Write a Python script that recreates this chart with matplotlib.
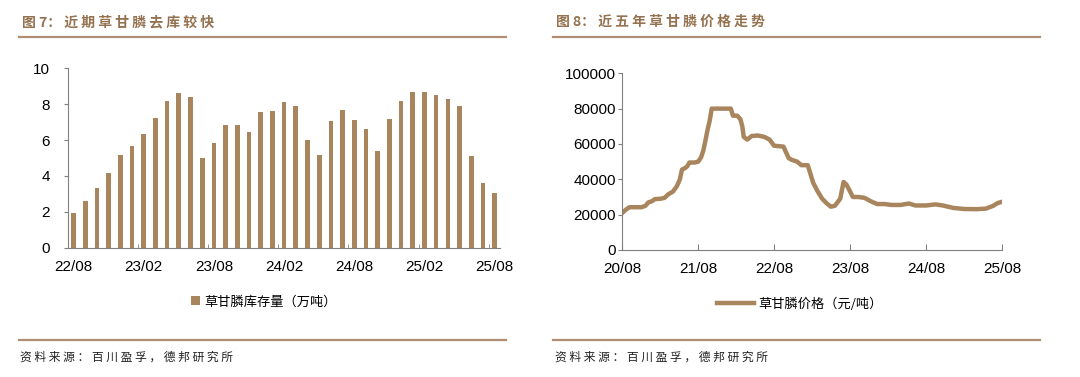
import matplotlib
matplotlib.use('Agg')
import matplotlib.pyplot as plt
from matplotlib.lines import Line2D
import pandas as pd

plt.rcParams['font.family'] = ['Liberation Sans', 'Noto Sans CJK SC', 'DejaVu Sans']

# ---- data: glyphosate inventory (10k t), monthly 22/08 .. 25/08
stock_months = pd.date_range('2022-08-01', '2025-08-01', freq='MS').strftime('%y/%m').tolist()
stock_values = [1.93, 2.58, 3.33, 4.18, 5.17, 5.69, 6.34, 7.21, 8.18, 8.61, 8.38, 5.00,
                5.85, 6.84, 6.82, 6.47, 7.57, 7.64, 8.10, 7.90, 5.98, 5.15, 7.04, 7.70,
                7.12, 6.64, 5.37, 7.16, 8.18, 8.66, 8.66, 8.51, 8.27, 7.90, 5.11, 3.61, 3.03]

# ---- data: glyphosate price (yuan/t)
price_dates = ['2020-08-01', '2020-08-20', '2020-09-05', '2020-10-01', '2020-11-01', '2020-11-20',
               '2020-12-05', '2020-12-20', '2021-01-05', '2021-02-01', '2021-02-20', '2021-03-10',
               '2021-04-01', '2021-04-20', '2021-05-05', '2021-05-15', '2021-06-01', '2021-06-10',
               '2021-06-20', '2021-07-15', '2021-08-01', '2021-08-15', '2021-08-25', '2021-09-05',
               '2021-09-15', '2021-09-25', '2021-10-05', '2021-11-01', '2021-12-01', '2022-01-05',
               '2022-01-15', '2022-02-05', '2022-02-20', '2022-03-01', '2022-03-08', '2022-03-25',
               '2022-04-15', '2022-05-15', '2022-06-15', '2022-07-10', '2022-08-01', '2022-09-15',
               '2022-10-10', '2022-10-25', '2022-11-20', '2022-12-10', '2023-01-10', '2023-02-05',
               '2023-02-25', '2023-03-20', '2023-04-10', '2023-05-01', '2023-05-20', '2023-06-15',
               '2023-07-01', '2023-07-15', '2023-08-15', '2023-09-10', '2023-10-10', '2023-11-10',
               '2023-12-10', '2024-01-15', '2024-02-15', '2024-04-01', '2024-05-10', '2024-06-10',
               '2024-08-01', '2024-09-15', '2024-10-20', '2024-12-10', '2025-02-01', '2025-04-01',
               '2025-05-15', '2025-06-20', '2025-07-10', '2025-08-01']
price_values = [21000, 23000, 24200, 24200, 24200, 25000,
                27000, 27500, 28800, 29000, 29500, 31500,
                33000, 36000, 40000, 45500, 46500, 47500,
                49500, 49500, 50000, 52500, 56000, 62000,
                68000, 73000, 80000, 80000, 80000, 80000,
                76000, 76000, 74000, 70000, 64000, 62500,
                64500, 64800, 64000, 62500, 59000, 58500,
                52000, 51000, 50000, 48000, 48000, 38000,
                33500, 29000, 26500, 24500, 25000, 29000,
                38500, 37000, 30000, 30000, 29500, 27500,
                26000, 26000, 25500, 25500, 26300, 25200,
                25200, 25800, 25200, 23800, 23200, 23100,
                23400, 25000, 26500, 27300]
price_ticks = ['2020-08-01', '2021-08-01', '2022-08-01', '2023-08-01', '2024-08-01', '2025-08-01']

bar_color = '#A8855C'
title_color = '#94714F'
rule_color = '#B08E72'
axis_color = '#808080'
cjk = ['Noto Sans CJK SC', 'DejaVu Sans']


def spaced(s):
    # the report fonts are set with wide letter spacing
    return ' '.join(s)


fig = plt.figure(figsize=(10.8, 3.77), dpi=100)

# ---------------- left chart ----------------
ax1 = fig.add_axes([0.0627, 0.343, 0.4007, 0.4758])
x = list(range(len(stock_values)))
ax1.bar(x, stock_values, width=0.4, color=bar_color, label='草甘膦库存量（万吨）')
ax1.set_xlim(-0.5, len(stock_values) - 0.5)
ax1.set_ylim(0, 10)
ax1.set_yticks(range(0, 11, 2))
ax1.set_xticks(x[::6])
ax1.set_xticklabels(stock_months[::6])
ax1.set_xticks([i + 0.5 for i in x[5::6]], minor=True)
ax1.tick_params(axis='x', which='major', length=0, labelsize=11, pad=9)
ax1.tick_params(axis='x', which='minor', direction='in', length=3, color=axis_color)
ax1.tick_params(axis='y', direction='out', length=3, color=axis_color, labelsize=11, pad=10)
for s in ['top', 'right']:
    ax1.spines[s].set_visible(False)
for s in ['left', 'bottom']:
    ax1.spines[s].set_color(axis_color)
ax1.legend(loc='upper center', bbox_to_anchor=(0.4536, -0.2), frameon=False,
           prop={'family': cjk, 'size': 9.5}, handlelength=0.7, handleheight=0.7,
           handletextpad=0.3)

# ---------------- right chart ----------------
ax2 = fig.add_axes([0.5762, 0.3369, 0.3516, 0.4687])
pdates = pd.to_datetime(price_dates)
ax2.plot(pdates, price_values, color=bar_color, lw=3.2, label='草甘膦价格（元/吨）')
ax2.set_xlim(pd.Timestamp(price_ticks[0]), pd.Timestamp(price_ticks[-1]))
ax2.set_ylim(0, 100000)
ax2.set_yticks(range(0, 100001, 20000))
ax2.set_xticks(pd.to_datetime(price_ticks))
ax2.set_xticklabels([pd.Timestamp(t).strftime('%y/%m') for t in price_ticks])
ax2.tick_params(axis='x', direction='in', length=4, color=axis_color, labelsize=11, pad=9)
ax2.tick_params(axis='y', direction='out', length=3, color=axis_color, labelsize=11, pad=1.5)
for s in ['top', 'right']:
    ax2.spines[s].set_visible(False)
for s in ['left', 'bottom']:
    ax2.spines[s].set_color(axis_color)
ax2.legend(loc='upper center', bbox_to_anchor=(0.468, -0.2), frameon=False,
           prop={'family': cjk, 'size': 9.5}, handlelength=2.8, handletextpad=0.3)

# ---------------- headers / footers ----------------
fig.text(22 / 1080, 1 - 22 / 377, '图 7： ' + spaced('近期草甘膦去库较快'), family=cjk, fontsize=10,
         fontweight='bold', color=title_color, va='center', ha='left')
fig.text(556 / 1080, 1 - 22 / 377, '图 8： ' + spaced('近五年草甘膦价格走势'), family=cjk, fontsize=10,
         fontweight='bold', color=title_color, va='center', ha='left')

for x0, x1 in [(19, 506), (553, 1040)]:
    for yy in [37, 339.5]:
        fig.add_artist(Line2D([x0 / 1080, x1 / 1080], [1 - yy / 377] * 2,
                              color=rule_color, lw=1.6, transform=fig.transFigure))

source = spaced('资料来源：百川盈孚，德邦研究所')
fig.text(20 / 1080, 1 - 357 / 377, source, family=cjk, fontsize=8.5,
         color='#222222', va='center', ha='left')
fig.text(555 / 1080, 1 - 357 / 377, source, family=cjk, fontsize=8.5,
         color='#222222', va='center', ha='left')

fig.savefig('out.png', dpi=100)
